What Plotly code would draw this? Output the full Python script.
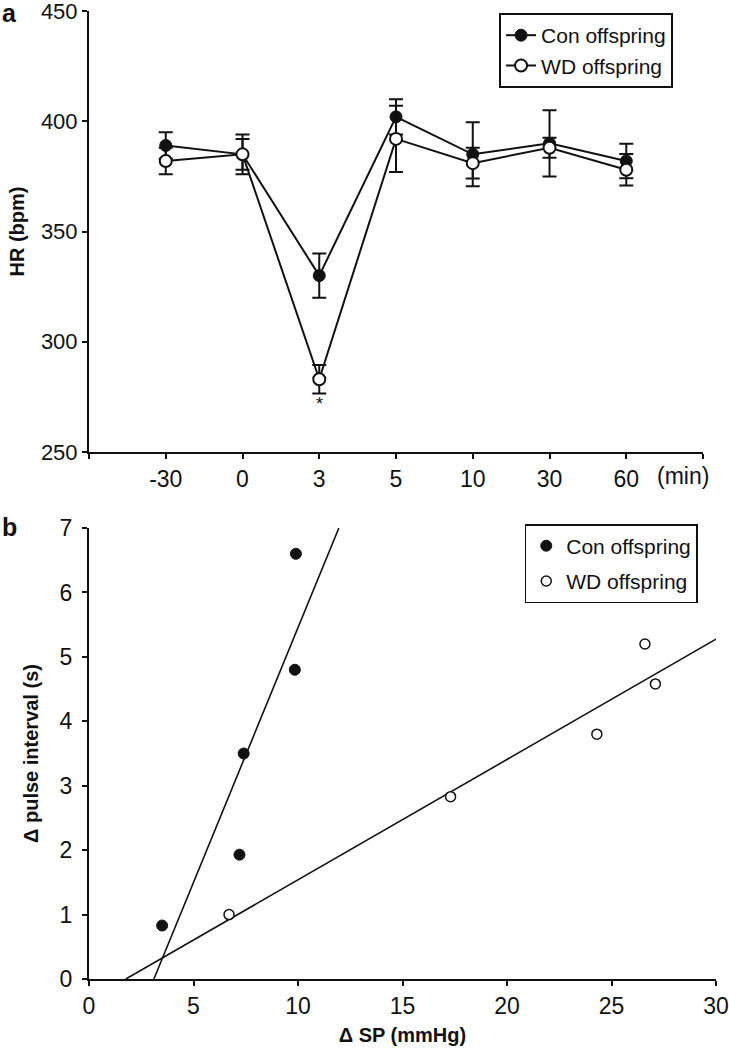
import numpy as np
import plotly.graph_objects as go

# ---------------- Panel a data ----------------
time_labels = ["-30", "0", "3", "5", "10", "30", "60"]
hr_con = [389, 385, 330, 402, 385, 390, 382]
hr_con_err = [6, 7, 10, 8, 14.5, 15, 7.8]
hr_wd = [382, 385, 283, 392, 381, 388, 378]
hr_wd_err = [6, 9, 6.5, 15, 7, 4.5, 7.1]

# ---------------- Panel b data ----------------
sp_con = [3.5, 7.2, 7.4, 9.85, 9.9]
pi_con = [0.83, 1.93, 3.5, 4.8, 6.6]
sp_wd = [6.7, 17.3, 24.3, 26.6, 27.1]
pi_wd = [1.0, 2.83, 3.8, 5.2, 4.58]

FONT = "Liberation Sans, Arial, Helvetica, sans-serif"
INK = "#111111"

pos = list(range(1, len(time_labels) + 1))

fig = go.Figure()

fig.add_trace(go.Scatter(
    x=pos, y=hr_con, mode="lines+markers", name="Con offspring",
    line=dict(color=INK, width=2),
    marker=dict(symbol="circle", size=12, color=INK, line=dict(color=INK, width=1)),
    error_y=dict(type="data", array=hr_con_err, visible=True, color=INK, thickness=2, width=7),
    xaxis="x", yaxis="y", legend="legend",
))
fig.add_trace(go.Scatter(
    x=pos, y=hr_wd, mode="lines+markers", name="WD offspring",
    line=dict(color=INK, width=2),
    marker=dict(symbol="circle", size=12, color="white", line=dict(color=INK, width=2)),
    error_y=dict(type="data", array=hr_wd_err, visible=True, color=INK, thickness=2, width=7),
    xaxis="x", yaxis="y", legend="legend",
))

# regression lines for panel b (least squares from the points)
def reg_line(xs, ys, xmax, ymax):
    m, b = np.polyfit(xs, ys, 1)
    x0 = -b / m
    x1 = min(xmax, (ymax - b) / m)
    return [x0, x1], [m * x0 + b, m * x1 + b]

lx, ly = reg_line(sp_con, pi_con, 30, 7)
fig.add_trace(go.Scatter(x=lx, y=ly, mode="lines", line=dict(color=INK, width=1.6),
                         showlegend=False, xaxis="x2", yaxis="y2", hoverinfo="skip"))
lx, ly = reg_line(sp_wd, pi_wd, 30, 7)
fig.add_trace(go.Scatter(x=lx, y=ly, mode="lines", line=dict(color=INK, width=1.6),
                         showlegend=False, xaxis="x2", yaxis="y2", hoverinfo="skip"))

fig.add_trace(go.Scatter(
    x=sp_con, y=pi_con, mode="markers", name="Con offspring",
    marker=dict(symbol="circle", size=11, color=INK, line=dict(color=INK, width=1)),
    xaxis="x2", yaxis="y2", legend="legend2", legendgroup="c",
))
fig.add_trace(go.Scatter(
    x=sp_wd, y=pi_wd, mode="markers", name="WD offspring",
    marker=dict(symbol="circle", size=10, color="white", line=dict(color=INK, width=1.5)),
    xaxis="x2", yaxis="y2", legend="legend2", legendgroup="w",
))

axis_common = dict(
    showline=True, linecolor=INK, linewidth=2, ticks="outside", ticklen=5,
    tickwidth=2, tickcolor=INK, showgrid=False, zeroline=False, automargin=False,
    ticklabeloverflow="allow",
)
tick23 = dict(family=FONT, size=23, color=INK)

fig.update_layout(
    width=729, height=1050,
    margin=dict(l=89, r=13, t=11, b=71),
    paper_bgcolor="white", plot_bgcolor="white",
    font=dict(family=FONT, color=INK),
    xaxis=dict(domain=[0, 0.9793], range=[0, 8],
               tickmode="array", tickvals=[0] + pos + [8],
               ticktext=[""] + time_labels + [""], anchor="y",
               tickfont=tick23, **axis_common),
    yaxis=dict(domain=[0.5444, 1.0], range=[250, 450], tickmode="array",
               tickvals=[250, 300, 350, 400, 450], anchor="x",
               tickfont=dict(family=FONT, size=22, color=INK),
               title=dict(text="<b>HR (bpm)</b>", font=dict(family=FONT, size=20, color=INK), standoff=11),
               **axis_common),
    xaxis2=dict(domain=[0, 1.0], range=[0, 30], tickmode="array",
                tickvals=[0, 5, 10, 15, 20, 25, 30], anchor="y2", tickfont=tick23,
                title=dict(text="<b>Δ SP (mmHg)</b>", font=dict(family=FONT, size=20, color=INK), standoff=10),
                **axis_common),
    yaxis2=dict(domain=[0, 0.4659], range=[0, 7], tickmode="array",
                tickvals=[0, 1, 2, 3, 4, 5, 6, 7], anchor="x2", ticklabelstandoff=5,
                tickfont=tick23,
                title=dict(text="<b>Δ pulse interval (s)</b>", font=dict(family=FONT, size=20, color=INK), standoff=16),
                **axis_common),
    legend=dict(x=0.654, y=0.9979, xanchor="left", yanchor="top",
                bordercolor=INK, borderwidth=2, bgcolor="white", entrywidth=172,
                font=dict(family=FONT, size=21, color=INK), tracegroupgap=0),
    legend2=dict(x=0.695, y=0.4700, xanchor="left", yanchor="top",
                 bordercolor=INK, borderwidth=1.5, bgcolor="white", entrywidth=170,
                 traceorder="grouped", tracegroupgap=5,
                 font=dict(family=FONT, size=21, color=INK)),
    annotations=[
        dict(text="<b>a</b>", x=-0.142, y=1.0113, xref="paper", yref="paper",
             xanchor="left", yanchor="top", yshift=3, showarrow=False,
             font=dict(family=FONT, size=25, color=INK)),
        dict(text="<b>b</b>", x=-0.142, y=0.4665, xref="paper", yref="paper",
             xanchor="left", yanchor="middle", showarrow=False,
             font=dict(family=FONT, size=25, color=INK)),
        dict(text="*", x=3, y=272, xref="x", yref="y", showarrow=False,
             font=dict(family=FONT, size=18, color=INK)),
        dict(text="(min)", x=7.74, y=250, xref="x", yref="y", yanchor="top",
             yshift=-9, showarrow=False, font=dict(family=FONT, size=23, color=INK)),
    ],
)

fig.write_html("out.html", config={"displayModeBar": False},
               post_script="document.body.style.margin='0px';")
